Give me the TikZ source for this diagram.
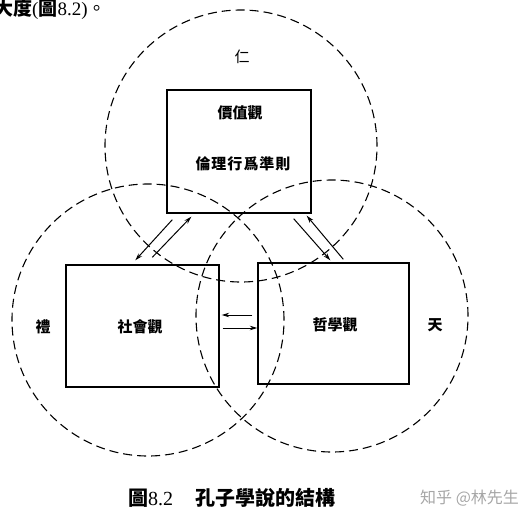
\documentclass[tikz,border=0pt]{standalone}
\usepackage{fontspec}
\setmainfont{Liberation Serif}
\newfontfamily\cjk{Noto Sans CJK TC}
\usetikzlibrary{arrows.meta}
\begin{document}
\begin{tikzpicture}[x=1pt,y=-1pt,
  box/.style={draw, line width=1.4pt, inner sep=0pt},
  ring/.style={draw, circle, line width=1.1pt, dash pattern=on 9pt off 5pt, minimum size=272pt, inner sep=0pt},
  lbl/.style={font=\cjk\fontsize{15}{15}\selectfont, inner sep=0pt},
  arr/.style={line width=1pt, -{Stealth[length=7.5pt,width=4.5pt]}}]
\useasboundingbox (0,0) rectangle (531,517);
% page text at top, first character cut by the edge
\node[anchor=west, inner sep=0pt, font=\fontsize{19}{19}\selectfont] (pagetext) at (-6,9) {{\cjk\bfseries 大度}({\cjk\bfseries 圖}8.2){\cjk 。}};
% circles
\node[ring] (ren) at (241,146) {};
\node[ring] (li) at (148,320) {};
\node[ring] (tian) at (332,316) {};
% boxes
\node[box, minimum width=144pt, minimum height=123pt] (topbox) at (239,151.5) {};
\node[box, minimum width=153pt, minimum height=122pt] (leftbox) at (142.5,326) {};
\node[box, minimum width=151pt, minimum height=121pt] (rightbox) at (333.5,323.5) {};
% labels
\node[lbl] (renlbl) at (242,57) {仁};
\node[lbl] (jiazhi) at (240,113) {\bfseries 價值觀};
\node[lbl] (lunli) at (243,164) {\bfseries 倫\kern1pt 理\kern1pt 行\kern1pt 爲\kern1pt 準\kern1pt 則};
\node[lbl] (lilbl) at (43,327) {\bfseries 禮};
\node[lbl] (shehui) at (140,327) {\bfseries 社會觀};
\node[lbl] (zhexue) at (335,325) {\bfseries 哲學觀};
\node[lbl] (tianlbl) at (435,325) {\bfseries 天};
% arrows
\draw[arr] ([shift={(6,6)}]topbox.south west) -- ([shift={(70,-4)}]leftbox.north west);
\draw[arr] ([shift={(87,-7)}]leftbox.north west) -- ([shift={(25,3)}]topbox.south west);
\draw[arr] ([shift={(-18,5)}]topbox.south east) -- ([shift={(73,-2)}]rightbox.north west);
\draw[arr] ([shift={(86,-3)}]rightbox.north west) -- ([shift={(-5,2)}]topbox.south east);
\draw[arr] ([shift={(-5,-8.5)}]rightbox.west) -- ([shift={(2,-11)}]leftbox.east);
\draw[arr] ([shift={(3,2)}]leftbox.east) -- ([shift={(0,4.5)}]rightbox.west);
% caption
\node[anchor=west, inner sep=0pt, font=\fontsize{20}{20}\selectfont] (caption) at (128,498) {{\cjk\bfseries 圖}8.2\hspace{22pt}{\cjk\bfseries 孔子學說的結構}};
\node[anchor=west, inner sep=0pt, text=black!35, font=\cjk\fontsize{16}{16}\selectfont] (watermark) at (420,498) {知乎 @林先生};
\end{tikzpicture}
\end{document}
